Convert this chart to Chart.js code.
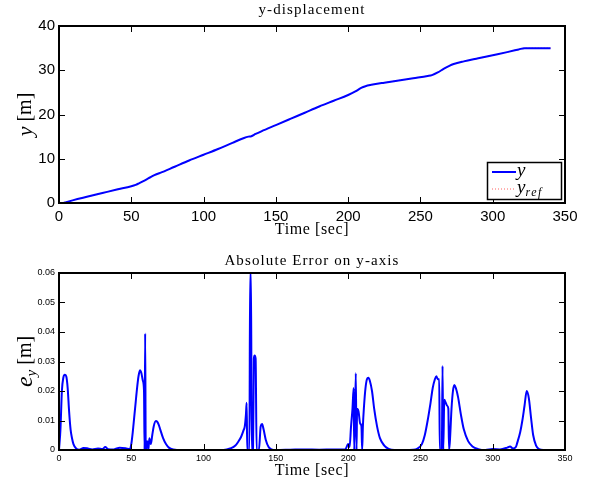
<!DOCTYPE html>
<html><head><meta charset="utf-8">
<script src="https://cdn.jsdelivr.net/npm/chart.js@4"></script>
<style>
html,body{margin:0;padding:0;background:#fff;width:590px;height:487px;overflow:hidden}
.wrap{position:absolute;left:0;width:590px}
canvas{display:block}
</style></head><body>
<div class="wrap" style="top:0;height:240px"><canvas id="c1" width="590" height="240"></canvas></div>
<div class="wrap" style="top:240px;height:247px"><canvas id="c2" width="590" height="247"></canvas></div>
<script>
// ---------- data ----------
const dispTime = [0, 3, 5, 10, 20, 30, 40, 50, 53, 55, 58, 62, 66, 70, 80, 90, 100, 110, 120, 128, 131, 133, 136, 140, 150, 160, 170, 180, 190, 200, 205, 209, 212, 216, 225, 235, 245, 255, 258, 262, 266, 270, 273, 280, 290, 300, 310, 318, 322, 330, 340];
const yValues = [0, 0, 0.2, 0.65, 1.45, 2.25, 3.05, 3.8, 4.1, 4.4, 4.9, 5.6, 6.3, 6.8, 8.2, 9.6, 10.9, 12.2, 13.6, 14.7, 15.0, 15.1, 15.6, 16.2, 17.6, 19.0, 20.4, 21.8, 23.1, 24.4, 25.2, 26.0, 26.4, 26.7, 27.2, 27.7, 28.2, 28.7, 28.9, 29.5, 30.3, 31.0, 31.4, 32.0, 32.7, 33.4, 34.1, 34.7, 35.0, 35.0, 35.0];
const yRefValues = [0, 0, 0.2, 0.65, 1.45, 2.25, 3.05, 3.8, 4.1, 4.4, 4.9, 5.6, 6.3, 6.8, 8.2, 9.6, 10.9, 12.2, 13.6, 14.7, 15.0, 15.1, 15.6, 16.2, 17.6, 19.0, 20.4, 21.8, 23.1, 24.4, 25.2, 26.0, 26.4, 26.7, 27.2, 27.7, 28.2, 28.7, 28.9, 29.5, 30.3, 31.0, 31.4, 32.0, 32.7, 33.4, 34.1, 34.7, 35.0, 35.0, 35.0];

const errTime = [0, 1, 2, 3, 4, 5, 6, 7, 8, 9, 10, 12, 14, 17, 20, 23, 27, 30, 32, 34, 38, 42, 46, 49, 50, 51, 52, 53, 54, 55, 56, 57, 58, 58.8, 59.2, 59.6, 60.0, 61, 61.8, 62.5, 63.5, 64.5, 65.5, 67, 68, 69, 70, 72, 74, 76, 79, 85, 100, 112, 116, 119, 122, 124, 126, 127.5, 128.5, 129.3, 129.8, 130.2, 131.7, 132.2, 132.8, 133.3, 134.2, 134.8, 135.3, 136, 136.7, 138.3, 139.5, 140.5, 141.5, 143, 145, 147, 150, 160, 170, 180, 190, 198, 200, 201, 202, 203, 203.8, 204.2, 205.3, 205.8, 206.2, 207.2, 208.3, 209.2, 209.7, 210.2, 211, 212, 213, 214, 215, 216.5, 218, 220, 222, 225, 228, 232, 245, 248, 251, 253, 255, 257, 258.5, 260, 261, 262, 263, 263.4, 264.8, 265.3, 265.8, 266.5, 267.5, 268.5, 269.3, 269.8, 270.5, 271.5, 272.5, 273.5, 274.5, 276, 278, 280, 283, 286, 290, 295, 300, 305, 310, 312, 314, 316, 317, 319, 320.5, 322, 323.5, 325, 326.5, 328, 330, 332, 335, 340];
const errValues = [0, 0.007, 0.02, 0.0245, 0.0255, 0.025, 0.021, 0.013, 0.007, 0.004, 0.002, 0.0004, 0.0001, 0.0007, 0.0005, 0.0002, 0.0005, 0.0003, 0.001, 0.0003, 0.0002, 0.0008, 0.0006, 0.0003, 0.002, 0.006, 0.011, 0.016, 0.021, 0.025, 0.027, 0.026, 0.0235, 0.02, 0, 0.0395, 0, 0.003, 0, 0.004, 0.002, 0.005, 0.008, 0.0098, 0.0095, 0.0085, 0.007, 0.004, 0.002, 0.0008, 0.0002, 0, 0, 0, 0.0002, 0.0006, 0.0015, 0.0028, 0.0045, 0.0065, 0.008, 0.012, 0.016, 0, 0, 0.06, 0.06, 0, 0, 0.031, 0.032, 0.031, 0, 0, 0.008, 0.0088, 0.007, 0.0035, 0.001, 0.0002, 0, 0.0001, 0.0002, 0.0001, 0.0002, 0.0002, 0.002, 0.001, 0.008, 0.014, 0.021, 0, 0.026, 0, 0.014, 0.013, 0.009, 0.008, 0, 0.008, 0.015, 0.021, 0.024, 0.0245, 0.0235, 0.02, 0.014, 0.008, 0.004, 0.0015, 0.0004, 0, 0.0001, 0.0005, 0.002, 0.005, 0.01, 0.016, 0.021, 0.024, 0.025, 0.024, 0.024, 0, 0, 0.0285, 0, 0.017, 0.016, 0.015, 0.014, 0, 0.004, 0.014, 0.02, 0.022, 0.021, 0.018, 0.012, 0.007, 0.003, 0.0012, 0.0003, 0, 0.0003, 0.0002, 0.0008, 0.0012, 0.0005, 0.001, 0.0025, 0.006, 0.01, 0.015, 0.02, 0.0175, 0.011, 0.005, 0.0015, 0.0003, 0, 0];

const timeTicks = {min: 0, max: 350, step: 50};
const dispTicks = {min: 0, max: 40, step: 10};
const errTicks = {min: 0, max: 0.06, step: 0.01};

// ---------- drawing helpers ----------
const SERIF = '"Liberation Serif", "Times New Roman", serif';
const SANS = '"Liberation Sans", Arial, sans-serif';

function pts(xs, ys) { return xs.map((x, i) => ({x: x, y: ys[i]})); }

function drawRuns(ctx, runs, x, y, align) {
  let total = 0;
  runs.forEach(r => { ctx.font = r.font; ctx.letterSpacing = (r.ls || 0) + 'px'; total += ctx.measureText(r.t).width; });
  let cx = align === 'left' ? x : x - total / 2;
  ctx.textAlign = 'left';
  runs.forEach(r => {
    ctx.font = r.font; ctx.letterSpacing = (r.ls || 0) + 'px';
    ctx.fillText(r.t, cx, y + (r.dy || 0));
    cx += ctx.measureText(r.t).width;
  });
  ctx.letterSpacing = '0px';
}

const matlabPlugin = {
  id: 'matlab',
  afterDatasetsDraw(chart, args, o) {
    const {ctx, chartArea: a, scales: {x, y}} = chart;
    ctx.save();
    ctx.strokeStyle = '#000';
    ctx.lineWidth = 1;
    const L = Math.round(a.left), R = Math.round(a.right);
    const T = Math.round(a.top), B = Math.round(a.bottom);
    ctx.beginPath();
    x.ticks.forEach(t => {
      const px = Math.round(x.getPixelForValue(t.value)) + 0.5;
      ctx.moveTo(px, B); ctx.lineTo(px, B - 6);
      ctx.moveTo(px, T); ctx.lineTo(px, T + 6);
    });
    y.ticks.forEach(t => {
      const py = Math.round(y.getPixelForValue(t.value)) + 0.5;
      ctx.moveTo(L, py); ctx.lineTo(L + 6, py);
      ctx.moveTo(R, py); ctx.lineTo(R - 6, py);
    });
    ctx.stroke();
    ctx.lineWidth = 2;
    ctx.strokeRect(L, T, R - L, B - T);

    ctx.fillStyle = '#000';
    ctx.textBaseline = 'middle';
    drawRuns(ctx, [{t: o.title, font: '15px ' + SERIF, ls: 1.1}], (a.left + a.right) / 2, o.titleY, 'center');
    drawRuns(ctx, [{t: 'Time [sec]', font: '16px ' + SERIF, ls: 0.6}], (a.left + a.right) / 2, o.xTitleY, 'center');
    ctx.save();
    ctx.translate(o.yTitleX, (a.top + a.bottom) / 2 + o.yTitleDy);
    ctx.rotate(-Math.PI / 2);
    drawRuns(ctx, o.yTitleRuns, 0, 0, 'center');
    ctx.restore();

    if (o.legend) {
      const g = o.legend;
      ctx.fillStyle = '#fff';
      ctx.fillRect(g.x, g.y, g.w, g.h);
      ctx.lineWidth = 1.5;
      ctx.strokeStyle = '#000';
      ctx.strokeRect(g.x + 0.5, g.y + 0.5, g.w, g.h);
      chart.data.datasets.forEach((ds, i) => {
        const ly = g.y + 10 + i * 17;
        ctx.beginPath();
        ctx.strokeStyle = ds.borderColor;
        ctx.lineWidth = ds.borderWidth;
        ctx.setLineDash(ds.borderDash || []);
        ctx.moveTo(g.x + 5, ly); ctx.lineTo(g.x + 29, ly);
        ctx.stroke();
        ctx.setLineDash([]);
        ctx.fillStyle = '#000';
        drawRuns(ctx, g.labels[i], g.x + 30, ly - 1, 'left');
      });
    }
    ctx.restore();
  }
};

function makeChart(id, datasets, yt, cfg) {
  return new Chart(document.getElementById(id), {
    type: 'line',
    data: {datasets: datasets},
    plugins: [matlabPlugin],
    options: {
      responsive: false, animation: false, devicePixelRatio: 1,
      layout: {padding: {left: 0, right: 25, top: cfg.top, bottom: 0}},
      elements: {point: {radius: 0}, line: {cubicInterpolationMode: 'monotone'}},
      plugins: {legend: {display: false}, tooltip: {enabled: false}, title: {display: false}, matlab: cfg.matlab},
      scales: {
        x: {
          type: 'linear', min: timeTicks.min, max: timeTicks.max,
          afterFit: s => { s.height = 37; },
          ticks: {stepSize: timeTicks.step, color: '#000', font: {family: SANS, size: cfg.tickSize}, padding: cfg.xPad, maxRotation: 0, autoSkip: false},
          grid: {display: false, drawTicks: false},
          border: {display: false}
        },
        y: {
          type: 'linear', min: yt.min, max: yt.max,
          afterFit: s => { s.width = 59; },
          ticks: {stepSize: yt.step, color: '#000', font: {family: SANS, size: cfg.tickSize}, padding: 4},
          grid: {display: false, drawTicks: false},
          border: {display: false}
        }
      }
    }
  });
}

makeChart('c1', [
  {label: 'y', data: pts(dispTime, yValues), borderColor: '#0000ff', borderWidth: 2, fill: false, order: 0},
  {label: 'y_ref', data: pts(dispTime, yRefValues), borderColor: '#ff6060', borderWidth: 1, borderDash: [1, 2], fill: false, order: 1}
], dispTicks, {
  top: 26, tickSize: 15, xPad: 5,
  matlab: {
    title: 'y-displacement', titleY: 10, xTitleY: 230,
    yTitleX: 26, yTitleDy: 0,
    yTitleRuns: [{t: 'y', font: 'italic 22px ' + SERIF}, {t: ' [m]', font: '20px ' + SERIF}],
    legend: {x: 487, y: 162, w: 74, h: 37, labels: [
      [{t: 'y', font: 'italic 19px ' + SERIF}],
      [{t: 'y', font: 'italic 19px ' + SERIF}, {t: 'ref', font: 'italic 12px ' + SERIF, dy: 5, ls: 1.5}]
    ]}
  }
});

makeChart('c2', [
  {label: 'e_y', data: pts(errTime, errValues), borderColor: '#0000ff', borderWidth: 2, fill: false}
], errTicks, {
  top: 33, tickSize: 9, xPad: 3,
  matlab: {
    title: 'Absolute Error on y-axis', titleY: 21, xTitleY: 231,
    yTitleX: 26, yTitleDy: 0,
    yTitleRuns: [{t: 'e', font: 'italic 24px ' + SERIF}, {t: 'y', font: 'italic 15px ' + SERIF, dy: 6}, {t: ' [m]', font: '20px ' + SERIF}]
  }
});
</script>
</body></html>
